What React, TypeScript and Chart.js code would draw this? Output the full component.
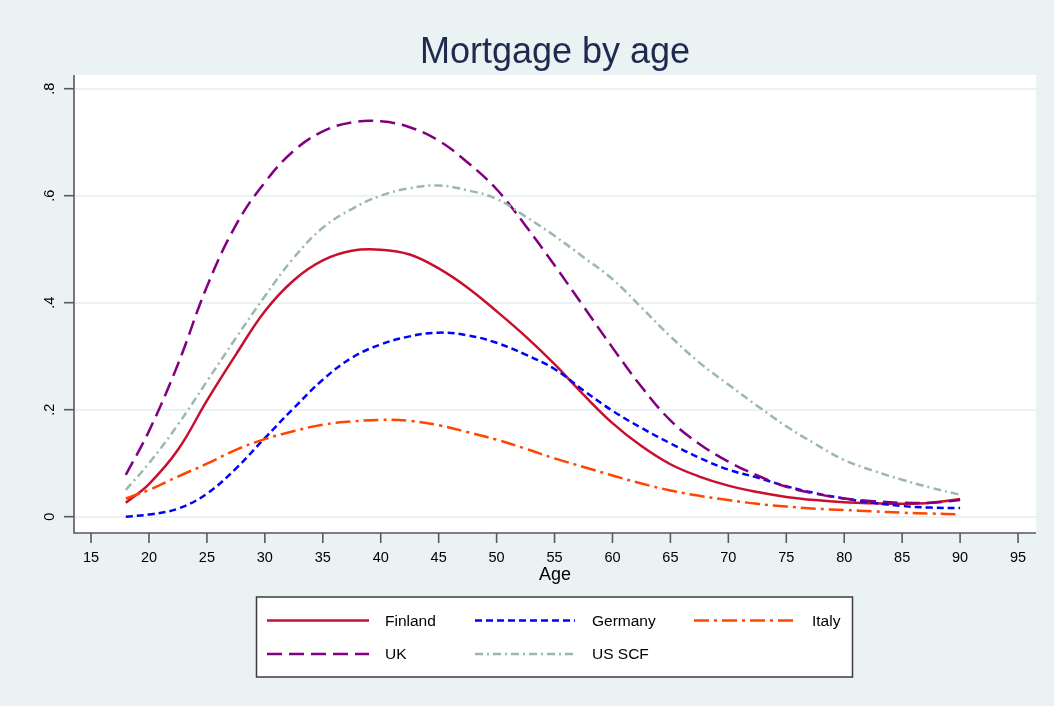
import React, { useEffect, useRef } from "react";
import { Chart, registerables } from "chart.js";

Chart.register(...registerables);

const ages = [18, 20, 22.5, 25, 27.5, 30, 32.5, 35, 37.5, 40, 42.5, 45, 47.5, 50, 52.5, 55, 57.5, 60, 62.5, 65, 67.5, 70, 72.5, 75, 77.5, 80, 82.5, 85, 87.5, 90];
const finland = [0.026, 0.061, 0.125, 0.217, 0.303, 0.384, 0.442, 0.479, 0.497, 0.499, 0.49, 0.464, 0.428, 0.384, 0.337, 0.285, 0.228, 0.175, 0.132, 0.098, 0.075, 0.058, 0.046, 0.037, 0.031, 0.027, 0.025, 0.024, 0.026, 0.033];
const germany = [0.0, 0.004, 0.015, 0.043, 0.09, 0.147, 0.203, 0.256, 0.297, 0.322, 0.337, 0.344, 0.339, 0.325, 0.303, 0.276, 0.236, 0.198, 0.166, 0.137, 0.11, 0.088, 0.073, 0.057, 0.044, 0.034, 0.026, 0.02, 0.017, 0.016];
const italy = [0.034, 0.05, 0.075, 0.099, 0.125, 0.145, 0.16, 0.172, 0.178, 0.181, 0.179, 0.171, 0.158, 0.144, 0.127, 0.109, 0.093, 0.077, 0.062, 0.049, 0.039, 0.031, 0.024, 0.019, 0.015, 0.0125, 0.01, 0.0075, 0.0058, 0.0045];
const uk = [0.078, 0.16, 0.285, 0.43, 0.545, 0.625, 0.684, 0.72, 0.737, 0.739, 0.728, 0.703, 0.662, 0.612, 0.544, 0.47, 0.393, 0.316, 0.243, 0.18, 0.136, 0.103, 0.077, 0.056, 0.043, 0.034, 0.029, 0.026, 0.026, 0.031];
const usScf = [0.05, 0.1, 0.172, 0.253, 0.334, 0.412, 0.484, 0.54, 0.575, 0.6, 0.614, 0.619, 0.61, 0.594, 0.561, 0.525, 0.485, 0.444, 0.391, 0.337, 0.288, 0.247, 0.207, 0.169, 0.136, 0.106, 0.086, 0.069, 0.054, 0.041];

const seriesNames = ["Finland", "Germany", "Italy", "UK", "US SCF"];
const xTicks = [15, 20, 25, 30, 35, 40, 45, 50, 55, 60, 65, 70, 75, 80, 85, 90, 95];
const yTicks = [0, 0.2, 0.4, 0.6, 0.8];
const yTickLabels = ["0", ".2", ".4", ".6", ".8"];
const titleText = "Mortgage by age";
const xTitle = "Age";

const FONT = '"Liberation Sans", Arial, Helvetica, sans-serif';
const BG = "#eaf2f3";
const colors = ["#c8102e", "#0000ff", "#ff4500", "#800080", "#9bb8ad"];
const dashes = [[], [7, 4], [15, 5, 3, 5], [15, 7], [8, 4, 2, 4]];

export default function App() {
  const ref = useRef<HTMLCanvasElement | null>(null);
  useEffect(() => {
    const canvas = ref.current;
    if (!canvas) return;
    const values = [finland, germany, italy, uk, usScf];
    const datasets = seriesNames.map((name, i) => ({
      label: name,
      data: ages.map((a, j) => ({ x: a, y: values[i][j] })),
      borderColor: colors[i],
      backgroundColor: colors[i],
      borderWidth: 2.5,
      borderDash: dashes[i],
      pointRadius: 0,
      fill: false,
      tension: 0.4,
      order: 5 - i,
    }));

    const decor = {
      id: "decor",
      beforeDraw(chart: any) {
        const { ctx, chartArea: a } = chart;
        ctx.save();
        ctx.fillStyle = BG;
        ctx.fillRect(0, 0, chart.width, chart.height);
        ctx.fillStyle = "#ffffff";
        ctx.fillRect(a.left, a.top, a.right - a.left, a.bottom - a.top);
        ctx.restore();
      },
      afterDraw(chart: any) {
        const { ctx, chartArea: a, scales } = chart;
        const xs = scales.x;
        const ys = scales.y;
        ctx.save();
        ctx.strokeStyle = "#595959";
        ctx.lineWidth = 1.6;
        ctx.setLineDash([]);
        ctx.beginPath();
        ctx.moveTo(a.left, a.top);
        ctx.lineTo(a.left, a.bottom);
        ctx.lineTo(a.right, a.bottom);
        ctx.stroke();
        ctx.fillStyle = "#000";
        ctx.font = `14.5px ${FONT}`;
        yTicks.forEach((v, i) => {
          const py = ys.getPixelForValue(v);
          ctx.beginPath();
          ctx.moveTo(a.left - 10, py);
          ctx.lineTo(a.left, py);
          ctx.stroke();
          ctx.save();
          ctx.translate(54, py);
          ctx.rotate(-Math.PI / 2);
          ctx.textAlign = "center";
          ctx.textBaseline = "alphabetic";
          ctx.fillText(yTickLabels[i], 0, 0);
          ctx.restore();
        });
        ctx.textAlign = "center";
        ctx.textBaseline = "alphabetic";
        xTicks.forEach((v) => {
          const px = xs.getPixelForValue(v);
          ctx.beginPath();
          ctx.moveTo(px, a.bottom);
          ctx.lineTo(px, a.bottom + 10);
          ctx.stroke();
          ctx.fillText(String(v), px, 562);
        });
        ctx.font = `18px ${FONT}`;
        ctx.fillText(xTitle, (a.left + a.right) / 2, 580);
        ctx.font = `36px ${FONT}`;
        ctx.fillStyle = "#1e2a4e";
        ctx.fillText(titleText, (a.left + a.right) / 2, 63);
        const bx = 256.5, by = 597, bw = 596, bh = 80;
        ctx.fillStyle = "#ffffff";
        ctx.fillRect(bx, by, bw, bh);
        ctx.strokeStyle = "#3c3c3c";
        ctx.lineWidth = 1.5;
        ctx.strokeRect(bx, by, bw, bh);
        const cols = [
          { k0: 267, k1: 369, t: 385 },
          { k0: 475, k1: 575, t: 592 },
          { k0: 694, k1: 796, t: 812 },
        ];
        const rows = [620.5, 654];
        ctx.font = `15.5px ${FONT}`;
        ctx.textAlign = "left";
        ctx.textBaseline = "middle";
        seriesNames.forEach((name, i) => {
          const c = cols[i % 3];
          const ry = rows[Math.floor(i / 3)];
          ctx.strokeStyle = colors[i];
          ctx.lineWidth = 2.5;
          ctx.setLineDash(dashes[i]);
          ctx.beginPath();
          ctx.moveTo(c.k0, ry);
          ctx.lineTo(c.k1, ry);
          ctx.stroke();
          ctx.setLineDash([]);
          ctx.fillStyle = "#000";
          ctx.fillText(name, c.t, ry + 1);
        });
        ctx.restore();
      },
    };

    const chart = new Chart(canvas, {
      type: "line",
      data: { datasets },
      plugins: [decor],
      options: {
        animation: false,
        responsive: false,
        devicePixelRatio: 1,
        layout: { padding: { left: 74, right: 18, top: 75, bottom: 173 } },
        plugins: { legend: { display: false }, tooltip: { enabled: false }, title: { display: false } },
        scales: {
          x: {
            type: "linear",
            min: 13.53,
            max: 96.55,
            ticks: { display: false },
            grid: { display: false, drawTicks: false },
            border: { display: false },
          },
          y: {
            type: "linear",
            min: -0.0305,
            max: 0.8256,
            afterBuildTicks: (s: any) => {
              s.ticks = yTicks.map((v) => ({ value: v }));
            },
            ticks: { display: false },
            grid: { color: BG, lineWidth: 2, drawTicks: false },
            border: { display: false },
          },
        },
      },
    });
    return () => chart.destroy();
  }, []);

  return (
    <div style={{ position: "absolute", left: 0, top: 0, width: 1054, height: 706 }}>
      <canvas ref={ref} width={1054} height={706} style={{ width: 1054, height: 706, display: "block" }} />
    </div>
  );
}
